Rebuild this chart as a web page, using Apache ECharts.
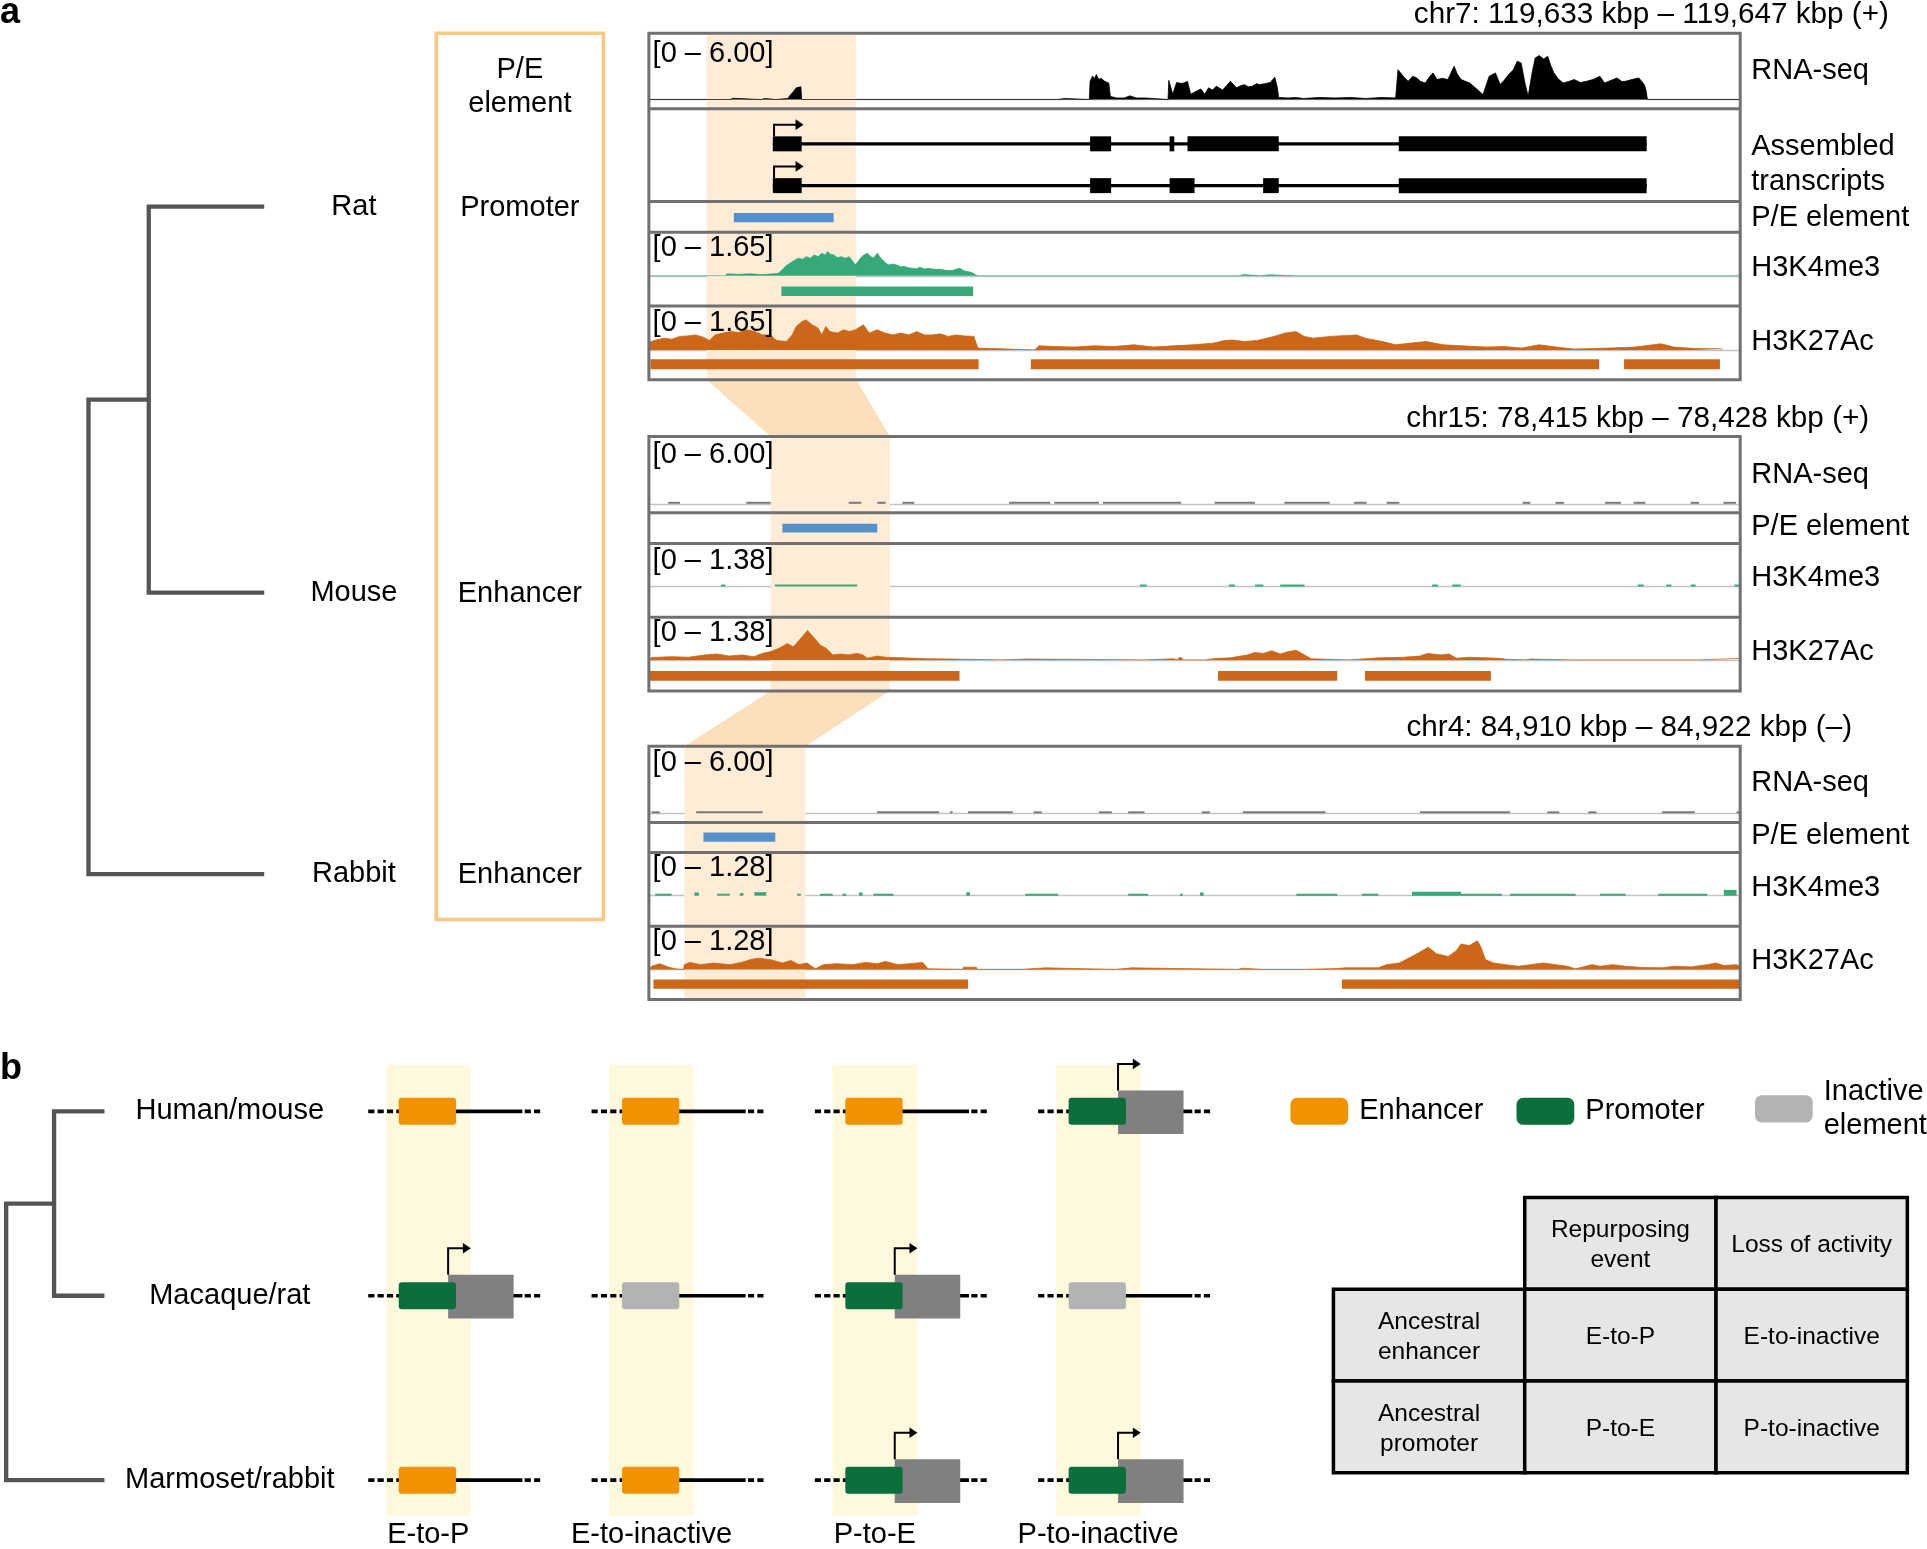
<!DOCTYPE html>
<html><head><meta charset="utf-8">
<script src="https://cdn.jsdelivr.net/npm/echarts@6/dist/echarts.min.js"></script>
<style>html,body{margin:0;padding:0;background:#fff}#c{width:1927px;height:1549px}</style>
</head><body><div id="c"></div><script>
// ================= DATA =================
// ---- Panel a: genomic windows (x = kbp from window start) ----
const regionLabels = ['chr7: 119,633 kbp – 119,647 kbp (+)', 'chr15: 78,415 kbp – 78,428 kbp (+)', 'chr4: 84,910 kbp – 84,922 kbp (–)'];
const regionSpanKbp = [14, 13, 12];
const speciesA = ['Rat', 'Mouse', 'Rabbit'];
const peStatesA = ['Promoter', 'Enhancer', 'Enhancer'];
const rnaRangeMax = [6.00, 6.00, 6.00];
const k4RangeMax = [1.65, 1.38, 1.28];
const k27RangeMax = [1.65, 1.38, 1.28];
const conservedBand = [[0.74, 2.66], [1.45, 2.87], [0.39, 1.72]];
const peElements = [[1.09, 2.37], [1.59, 2.72], [0.60, 1.39]];
const ratK4Peaks = [[1.70, 4.16]];
const ratK27Peaks = [[0.02, 4.23], [4.90, 12.19], [12.51, 13.74]];
const mouseK27Peaks = [[0.0, 3.70], [6.78, 8.20], [8.53, 10.03]];
const rabbitK27Peaks = [[0.05, 3.51], [7.62, 12.0]];
const ratTx1Exons = [[1.59, 1.96], [5.66, 5.93], [6.68, 6.74], [6.91, 8.08], [9.62, 12.80]];
const ratTx2Exons = [[1.59, 1.96], [5.66, 5.93], [6.68, 7.00], [7.88, 8.08], [9.62, 12.80]];

const ratRnaSignal = [[0,0],[1.04,0],[1.05,0.12],[1.08,0.12],[1.09,0],[1.44,0],[1.45,0.1],[1.49,0.1],[1.50,0],
 [1.63,0],[1.64,0.1],[1.78,0.1],[1.80,0.3],[1.86,0.8],[1.89,1.1],[1.95,1.2],[1.96,0],
 [5.25,0],[5.26,0.1],[5.33,0.1],[5.34,0],
 [5.65,0],[5.66,1.7],[5.69,2.2],[5.72,2.0],[5.74,2.35],[5.77,1.9],[5.80,2.0],[5.85,1.7],[5.90,1.55],[5.92,0.3],[6.0,0.15],[6.1,0.15],[6.17,0.35],[6.25,0.15],[6.37,0.15],[6.38,0],
 [6.66,0],[6.67,1.8],[6.72,0.5],[6.77,1.6],[6.84,1.5],[6.91,1.7],[6.95,0.5],[7.03,0.8],[7.08,1.0],[7.13,0.5],[7.18,1.1],[7.23,0.9],[7.28,1.25],[7.36,0.9],[7.41,1.3],[7.46,1.72],[7.54,1.1],[7.59,1.3],[7.64,1.4],[7.69,1.2],[7.74,1.25],[7.80,1.5],[7.83,1.4],[7.91,1.5],[7.97,1.6],[8.03,2.1],[8.06,1.2],[8.08,0.2],
 [8.2,0.15],[8.3,0.2],[8.4,0.1],[8.6,0.2],[8.8,0.15],[9.0,0.2],[9.2,0.1],[9.4,0.2],[9.58,0.15],[9.60,0],
 [9.61,2.8],[9.66,2.35],[9.70,2.0],[9.74,1.72],[9.80,2.2],[9.85,2.03],[9.90,1.7],[9.96,1.56],[10.02,2.2],[10.06,2.5],[10.11,1.88],[10.18,2.0],[10.25,1.88],[10.33,3.13],[10.37,2.4],[10.42,1.88],[10.48,1.7],[10.53,1.56],[10.62,1.0],[10.70,0.47],[10.78,2.19],[10.86,2.5],[10.92,1.41],[10.97,1.8],[11.03,2.35],[11.09,2.8],[11.14,3.6],[11.19,3.44],[11.24,1.5],[11.28,0.31],[11.33,2.5],[11.37,3.9],[11.42,4.13],[11.48,3.8],[11.53,4.07],[11.57,3.2],[11.61,2.5],[11.67,1.9],[11.73,1.56],[11.80,1.7],[11.87,1.88],[11.95,1.6],[12.03,1.72],[12.12,1.9],[12.20,2.19],[12.26,1.56],[12.34,1.8],[12.42,2.03],[12.48,1.7],[12.53,1.72],[12.62,1.9],[12.70,2.03],[12.77,1.4],[12.79,0.94],[12.81,0],[14,0]];

const ratK4Signal = [[0,0],[0.99,0],[1.00,0.08],[1.15,0.06],[1.30,0.08],[1.45,0.05],[1.60,0.08],[1.66,0.1],[1.71,0.24],[1.76,0.4],[1.81,0.5],[1.87,0.62],[1.92,0.7],[1.97,0.66],[2.02,0.76],[2.07,0.7],[2.12,0.83],[2.17,0.76],[2.22,0.9],[2.26,0.82],[2.29,0.96],[2.33,0.86],[2.37,0.83],[2.42,0.72],[2.47,0.76],[2.52,0.7],[2.57,0.76],[2.61,0.6],[2.65,0.43],[2.69,0.6],[2.73,0.76],[2.77,0.84],[2.80,0.9],[2.84,0.78],[2.88,0.7],[2.93,0.9],[2.97,0.72],[3.00,0.63],[3.04,0.5],[3.08,0.43],[3.13,0.47],[3.18,0.43],[3.23,0.36],[3.28,0.37],[3.33,0.32],[3.38,0.3],[3.43,0.28],[3.48,0.34],[3.53,0.27],[3.59,0.3],[3.66,0.26],[3.74,0.26],[3.81,0.22],[3.89,0.21],[3.94,0.26],[3.99,0.3],[4.04,0.2],[4.09,0.17],[4.15,0.12],[4.19,0.04],[4.22,0],
 [7.58,0],[7.59,0.05],[7.62,0.05],[7.63,0],[7.85,0],[7.86,0.04],[7.96,0.04],[7.97,0],[8.29,0],[8.30,0.05],[8.32,0],[9.40,0],[9.41,0.04],[9.43,0],[10.74,0],[10.75,0.04],[10.77,0],[13.97,0],[13.98,0.05],[14,0.05]];

const ratK27Signal = [[0,0.3],[0.015,0.33],[0.091,0.39],[0.193,0.46],[0.294,0.42],[0.395,0.53],[0.496,0.55],[0.598,0.59],[0.699,0.5],[0.775,0.37],[0.851,0.59],[0.952,0.66],[1.054,0.72],[1.155,0.68],[1.256,0.79],[1.358,0.72],[1.459,0.59],[1.560,0.59],[1.636,0.37],[1.763,0.33],[1.839,0.59],[1.890,0.92],[1.966,1.12],[2.016,1.18],[2.092,0.99],[2.168,0.86],[2.219,0.59],[2.270,0.92],[2.320,0.72],[2.422,0.66],[2.498,0.79],[2.574,0.72],[2.650,0.79],[2.751,0.99],[2.827,0.66],[2.928,0.79],[3.029,0.66],[3.131,0.59],[3.232,0.66],[3.333,0.59],[3.435,0.72],[3.536,0.59],[3.637,0.59],[3.739,0.63],[3.840,0.53],[3.941,0.59],[4.043,0.55],[4.169,0.53],[4.220,0.07],[4.245,0],
 [4.95,0],[4.954,0.07],[5.005,0.16],[5.208,0.13],[5.461,0.11],[5.714,0.16],[5.968,0.13],[6.221,0.2],[6.474,0.11],[6.728,0.16],[6.981,0.2],[7.234,0.26],[7.386,0.37],[7.487,0.39],[7.639,0.33],[7.80,0.37],[8.02,0.53],[8.16,0.66],[8.30,0.72],[8.41,0.53],[8.52,0.46],[8.74,0.53],[9.08,0.59],[9.19,0.46],[9.41,0.33],[9.58,0.2],[9.75,0.26],[9.97,0.33],[10.19,0.2],[10.42,0.16],[10.75,0.11],[10.97,0.13],[11.20,0.07],[11.42,0.2],[11.64,0.11],[11.87,0.03],[12.09,0.05],[12.31,0.07],[12.65,0.11],[12.98,0.24],[13.15,0.11],[13.43,0.05],[13.76,0.04],[13.77,0]];

const mouseRnaNoise = [[0.23,0.37],[1.16,1.45],[2.38,2.53],[2.72,2.82],[3.02,3.16],[4.29,4.78],[4.83,5.36],[5.41,6.34],[6.74,7.22],[7.57,8.11],[8.40,8.55],[8.79,8.94],[10.41,10.50],[10.80,10.90],[11.39,11.58],[11.73,11.87],[12.41,12.51],[12.80,12.95]];
const mouseK4Noise = [[0.86,0.91],[1.50,2.48],[5.85,5.93],[6.91,6.98],[7.22,7.32],[7.52,7.81],[9.33,9.40],[9.57,9.67],[11.78,11.85],[12.12,12.18],[12.41,12.47],[12.93,13.0]];
const mouseK27Signal = [[0,0],[0.03,0.08],[0.27,0.11],[0.47,0.09],[0.67,0.17],[0.81,0.2],[0.96,0.13],[1.11,0.17],[1.25,0.11],[1.35,0.22],[1.45,0.28],[1.55,0.39],[1.65,0.55],[1.72,0.44],[1.79,0.66],[1.89,0.99],[1.96,0.77],[2.04,0.5],[2.11,0.39],[2.19,0.17],[2.28,0.2],[2.38,0.17],[2.48,0.22],[2.55,0.17],[2.60,0.06],[2.72,0.13],[2.82,0.09],[3.02,0.07],[3.31,0.04],[3.60,0.03],[3.62,0],
 [4.20,0],[4.21,0.03],[4.50,0.03],[4.51,0],[5.90,0],[5.91,0.04],[6.25,0.04],[6.26,0],[6.30,0],[6.31,0.07],[6.35,0.07],[6.36,0],
 [6.63,0],[6.64,0.02],[6.74,0.05],[6.93,0.07],[7.13,0.17],[7.22,0.25],[7.32,0.22],[7.42,0.31],[7.52,0.2],[7.62,0.28],[7.71,0.33],[7.81,0.17],[7.89,0.04],[7.90,0],
 [8.34,0],[8.35,0.04],[8.69,0.07],[8.99,0.09],[9.18,0.13],[9.28,0.22],[9.43,0.17],[9.53,0.2],[9.62,0.06],[9.77,0.09],[9.97,0.07],[10.16,0.05],[10.21,0.02],[10.22,0],
 [10.45,0],[10.46,0.03],[10.50,0.03],[10.51,0],[11.00,0],[11.01,0.03],[11.05,0],[11.50,0],[11.51,0.03],[11.55,0],[12.50,0],[12.51,0.05],[13,0.05]];

const rabbitRnaNoise = [[0.03,0.12],[0.52,1.25],[2.51,3.19],[3.31,3.34],[3.51,4.00],[4.23,4.32],[4.95,5.09],[5.27,5.45],[6.08,6.17],[6.53,7.44],[8.48,9.47],[9.88,10.01],[10.33,10.42],[11.14,11.50],[11.96,12.0]];
const rabbitK4Bumps = [[0.07,0.25,0.05],[0.50,0.55,0.1],[0.75,0.89,0.05],[1.00,1.04,0.08],[1.16,1.29,0.11],[1.63,1.67,0.05],[1.88,2.02,0.04],[2.13,2.17,0.05],[2.31,2.35,0.1],[2.47,2.69,0.03],[3.49,3.53,0.11],[4.14,4.50,0.05],[5.27,5.49,0.04],[5.84,5.87,0.05],[6.06,6.10,0.1],[7.12,7.57,0.03],[7.84,8.02,0.03],[8.39,8.93,0.12],[8.93,9.38,0.06],[9.47,10.19,0.04],[10.46,10.74,0.03],[11.10,11.64,0.03],[11.82,11.96,0.18]];
const rabbitK27Signal = [[0,0],[0.03,0.1],[0.12,0.18],[0.21,0.08],[0.29,0.02],[0.30,0],[0.38,0],[0.39,0.15],[0.45,0.22],[0.57,0.15],[0.71,0.2],[0.89,0.15],[1.02,0.22],[1.11,0.3],[1.20,0.35],[1.34,0.3],[1.47,0.2],[1.56,0.28],[1.65,0.15],[1.74,0.2],[1.83,0.02],[1.92,0.15],[2.06,0.18],[2.24,0.15],[2.38,0.22],[2.51,0.18],[2.60,0.25],[2.74,0.15],[2.87,0.18],[3.01,0.22],[3.07,0.02],[3.08,0],
 [3.45,0],[3.46,0.07],[3.60,0.07],[3.61,0],[4.09,0],[4.10,0.05],[4.36,0.05],[4.37,0],[5.13,0],[5.14,0.05],[5.31,0.05],[5.32,0],[6.48,0],[6.49,0.04],[6.52,0.04],[6.53,0],[6.75,0],[6.76,0.04],[6.79,0],
 [7.21,0],[7.22,0.03],[7.57,0.03],[7.66,0.05],[8.02,0.05],[8.11,0.15],[8.25,0.2],[8.39,0.4],[8.48,0.54],[8.57,0.69],[8.66,0.49],[8.79,0.4],[8.88,0.59],[8.93,0.79],[9.02,0.74],[9.11,0.89],[9.15,0.69],[9.20,0.3],[9.29,0.2],[9.42,0.15],[9.56,0.1],[9.70,0.15],[9.83,0.2],[9.97,0.15],[10.10,0.1],[10.19,0.02],[10.37,0.15],[10.46,0.1],[10.60,0.15],[10.74,0.1],[10.92,0.06],[11.14,0.05],[11.28,0.1],[11.46,0.08],[11.64,0.15],[11.73,0.2],[11.82,0.12],[11.96,0.15],[12,0.1]];
const treeADepth = [0, 0.343, 1];

// ---- Panel b ----
const speciesB = ['Human/mouse', 'Macaque/rat', 'Marmoset/rabbit'];
const events = ['E-to-P', 'E-to-inactive', 'P-to-E', 'P-to-inactive'];
const elementStates = [['E','E','E','P'], ['P','I','P','I'], ['E','E','P','P']];
const stateKeys = ['E', 'P', 'I'];
const stateNames = ['Enhancer', 'Promoter', 'Inactive element'];
const treeBDepth = [0, 0.4875, 1];
const tableColHeaders = ['Repurposing\nevent', 'Loss of activity'];
const tableRowHeaders = ['Ancestral\nenhancer', 'Ancestral\npromoter'];
const tableBody = [['E-to-P', 'E-to-inactive'], ['P-to-E', 'P-to-inactive']];

// ================= LAYOUT / STYLE =================
const SX = 1927 / 1568, SY = 1549 / 1260;
const X = v => v * SX, Y = v => v * SY;
const F = '"Liberation Sans", Arial, Helvetica, sans-serif';
const FS = 29;
const C = {rna:'#000000', k4:'#36a978', k27:'#cc6618', pe:'#5491cb', frame:'#707070', base:'#c4c4c4',
  enh:'#f39200', pro:'#0c6e3a', ina:'#b3b3b3', gene:'#808080', yellow:'#fef9dc', bandIn:'#feecd6', bandLink:'#fddfbb', box:'#fdc77e', tree:'#555555'};
const L = {left:528, width:888, aSpeciesY:[168, 482, 711], aSpeciesX:288, aStateX:423};
const LB = [
 {top:27, bottom:309, seps:[88.5,164,189,249], head:[1537,12], rna:[29,81], tx:[117,151], pe:[177,7.6], k4:[190.5,224.4], k4p:[236.9,7.6], k27:[250.5,284.6], k27p:[296.3,8], rangeY:[44,202,263],
  labels:[['RNA-seq',58],['Assembled\ntranscripts',133.5],['P/E element',177],['H3K4me3',218],['H3K27Ac',278]]},
 {top:355, bottom:562, seps:[417,442,502], head:[1521,341], rna:[357,409.8], pe:[429.6,7], k4:[443.5,477.1], k27:[503.5,536.8], k27p:[549.8,8], rangeY:[370,456,515],
  labels:[['RNA-seq',386],['P/E element',429],['H3K4me3',470],['H3K27Ac',530]]},
 {top:607, bottom:813, seps:[669,693.5,753.5], head:[1507,592], rna:[609,661.6], pe:[681,7.5], k4:[695,728.6], k27:[755,788.6], k27p:[800.5,7.6], rangeY:[621,706,766],
  labels:[['RNA-seq',637],['P/E element',680],['H3K4me3',722],['H3K27Ac',782]]}
];

// ================= BUILD =================
const grids = [], xAxes = [], yAxes = [], series = [];
function addGrid(top, bottom, span, ymax, baseline) {
  const i = grids.length;
  grids.push({left:X(L.left), width:X(L.width), top:Y(top), height:Y(bottom - top)});
  xAxes.push({gridIndex:i, type:'value', min:0, max:span, show:!!baseline,
    axisLine:{show:!!baseline, onZero:false, lineStyle:{color:C.base, width:1.3}}, axisTick:{show:false}, axisLabel:{show:false}, splitLine:{show:false}});
  yAxes.push({gridIndex:i, type:'value', min:0, max:ymax, show:false, splitLine:{show:false}});
  return i;
}
function addSignal(gi, data, color) {
  series.push({type:'line', xAxisIndex:gi, yAxisIndex:gi, data, symbol:'none', showSymbol:false, silent:true, z:3,
    lineStyle:{width:0.8, color}, areaStyle:{color, opacity:1}});
}
function addIntervals(gi, data, color) {
  series.push({type:'custom', xAxisIndex:gi, yAxisIndex:gi, data, silent:true, z:3,
    renderItem:(p, api) => { const a = api.coord([api.value(0), 0]), b = api.coord([api.value(1), 1]);
      return {type:'rect', shape:{x:a[0], y:b[1], width:b[0]-a[0], height:a[1]-b[1]}, style:{fill:color}}; }});
}
function addBumps(gi, data, color, fixedVal) {
  series.push({type:'custom', xAxisIndex:gi, yAxisIndex:gi, data, silent:true, z:3,
    renderItem:(p, api) => { const v = fixedVal != null ? fixedVal : api.value(2);
      const a = api.coord([api.value(0), 0]), b = api.coord([api.value(1), v]);
      const h = Math.max(2, a[1] - b[1]);
      return {type:'rect', shape:{x:a[0], y:a[1]-h, width:Math.max(1.5, b[0]-a[0]), height:h}, style:{fill:color}}; }});
}
function addTranscript(center, span, exons) {
  const gi = addGrid(center - 6.1, center + 6.1, span, 1, false);
  const s = exons[0][0], e = exons[exons.length - 1][1];
  series.push({type:'custom', xAxisIndex:gi, yAxisIndex:gi, data:[[s, e]], silent:true, z:3,
    renderItem:(p, api) => {
      const a = api.coord([api.value(0), 0.5]), b = api.coord([api.value(1), 0.5]), t = api.coord([api.value(0), 1]);
      const ay = t[1] - Y(9.5), ax = t[0] + X(1);
      return {type:'group', children:[
        {type:'line', shape:{x1:a[0], y1:a[1], x2:b[0], y2:b[1]}, style:{stroke:'#000', lineWidth:3.2}},
        {type:'polyline', shape:{points:[[ax, t[1]], [ax, ay], [ax + X(18.5), ay]]}, style:{stroke:'#000', lineWidth:2, fill:null}},
        {type:'polygon', shape:{points:[[ax + X(17.5), ay - Y(4.4)], [ax + X(24), ay], [ax + X(17.5), ay + Y(4.4)]]}, style:{fill:'#000'}}
      ]};
    }});
  addIntervals(gi, exons, '#000');
}

const spans = regionSpanKbp;
const rnaGridIdx = [];
// Rat
{
  const b = LB[0], sp = spans[0];
  const g1 = addGrid(b.rna[0], b.rna[1], sp, rnaRangeMax[0], true); rnaGridIdx.push(g1); addSignal(g1, ratRnaSignal, C.rna);
  addTranscript(b.tx[0], sp, ratTx1Exons);
  addTranscript(b.tx[1], sp, ratTx2Exons);
  const g2 = addGrid(b.pe[0] - b.pe[1]/2, b.pe[0] + b.pe[1]/2, sp, 1, false); addIntervals(g2, [peElements[0]], C.pe);
  const g3 = addGrid(b.k4[0], b.k4[1], sp, k4RangeMax[0], true); addSignal(g3, ratK4Signal, C.k4);
  const g4 = addGrid(b.k4p[0] - b.k4p[1]/2, b.k4p[0] + b.k4p[1]/2, sp, 1, false); addIntervals(g4, ratK4Peaks, C.k4);
  const g5 = addGrid(b.k27[0], b.k27[1], sp, k27RangeMax[0], true); addSignal(g5, ratK27Signal, C.k27);
  const g6 = addGrid(b.k27p[0] - b.k27p[1]/2, b.k27p[0] + b.k27p[1]/2, sp, 1, false); addIntervals(g6, ratK27Peaks, C.k27);
}
// Mouse
{
  const b = LB[1], sp = spans[1];
  const g1 = addGrid(b.rna[0], b.rna[1], sp, rnaRangeMax[1], true); rnaGridIdx.push(g1); addBumps(g1, mouseRnaNoise, '#7a7a7a', 0.1);
  const g2 = addGrid(b.pe[0] - b.pe[1]/2, b.pe[0] + b.pe[1]/2, sp, 1, false); addIntervals(g2, [peElements[1]], C.pe);
  const g3 = addGrid(b.k4[0], b.k4[1], sp, k4RangeMax[1], true); addBumps(g3, mouseK4Noise, C.k4, 0.04);
  const g5 = addGrid(b.k27[0], b.k27[1], sp, k27RangeMax[1], true); addSignal(g5, mouseK27Signal, C.k27);
  const g6 = addGrid(b.k27p[0] - b.k27p[1]/2, b.k27p[0] + b.k27p[1]/2, sp, 1, false); addIntervals(g6, mouseK27Peaks, C.k27);
}
// Rabbit
{
  const b = LB[2], sp = spans[2];
  const g1 = addGrid(b.rna[0], b.rna[1], sp, rnaRangeMax[2], true); rnaGridIdx.push(g1); addBumps(g1, rabbitRnaNoise, '#7a7a7a', 0.1);
  const g2 = addGrid(b.pe[0] - b.pe[1]/2, b.pe[0] + b.pe[1]/2, sp, 1, false); addIntervals(g2, [peElements[2]], C.pe);
  const g3 = addGrid(b.k4[0], b.k4[1], sp, k4RangeMax[2], true); addBumps(g3, rabbitK4Bumps, C.k4, null);
  const g5 = addGrid(b.k27[0], b.k27[1], sp, k27RangeMax[2], true); addSignal(g5, rabbitK27Signal, C.k27);
  const g6 = addGrid(b.k27p[0] - b.k27p[1]/2, b.k27p[0] + b.k27p[1]/2, sp, 1, false); addIntervals(g6, rabbitK27Peaks, C.k27);
}

// Panel a tree + species + P/E states
function elbowTree(api, depths, ys, color) {
  const xr = api.coord([depths[0], 0])[0], xi = api.coord([depths[1], 0])[0], xl = api.coord([depths[2], 0])[0];
  const yi = (ys[0] + ys[1]) / 2;
  const st = {stroke:color, lineWidth:X(3.5), fill:null, lineJoin:'miter', lineCap:'butt'};
  return [
    {type:'polyline', shape:{points:[[xl, ys[0]], [xi, ys[0]], [xi, ys[1]], [xl, ys[1]]]}, style:st},
    {type:'polyline', shape:{points:[[xi, yi], [xr, yi], [xr, ys[2]], [xl, ys[2]]]}, style:st}
  ];
}
{
  const i = grids.length;
  grids.push({left:X(72), width:X(143), top:0, height:Y(1260)});
  xAxes.push({gridIndex:i, type:'value', min:0, max:1, show:false});
  yAxes.push({gridIndex:i, type:'value', min:0, max:1260, inverse:true, show:false});
  series.push({type:'custom', xAxisIndex:i, yAxisIndex:i, data:[[0, 0]], silent:true, z:3,
    renderItem:(p, api) => {
      const ys = L.aSpeciesY.map(v => api.coord([0, v])[1]);
      const kids = elbowTree(api, treeADepth, ys, C.tree);
      speciesA.forEach((s, k) => {
        kids.push({type:'text', x:X(L.aSpeciesX), y:ys[k], style:{text:s, fontSize:FS, fontFamily:F, fill:'#000', align:'center', verticalAlign:'middle'}});
        kids.push({type:'text', x:X(L.aStateX), y:ys[k] + Y(1), style:{text:peStatesA[k], fontSize:FS, fontFamily:F, fill:'#000', align:'center', verticalAlign:'middle'}});
      });
      return {type:'group', children:kids};
    }});
}

// Panel b tree (rows at first/last category edges: boundaryGap false)
{
  const i = grids.length;
  grids.push({left:X(5), width:X(80), top:Y(904), height:Y(300)});
  xAxes.push({gridIndex:i, type:'value', min:0, max:1, show:false});
  yAxes.push({gridIndex:i, type:'category', data:speciesB, inverse:true, boundaryGap:false, show:false});
  series.push({type:'custom', xAxisIndex:i, yAxisIndex:i, data:[[0, 0]], silent:true, z:3,
    renderItem:(p, api) => {
      const ys = [0, 1, 2].map(r => api.coord([0, r])[1]);
      return {type:'group', children:elbowTree(api, treeBDepth, ys, C.tree)};
    }});
}

// Panel b schematic
const schem = grids.length;
grids.push({left:X(257.6), width:X(726.8), top:Y(904), height:Y(300)});
xAxes.push({gridIndex:schem, type:'category', data:events, show:false});
yAxes.push({gridIndex:schem, type:'category', data:speciesB, inverse:true, boundaryGap:false, show:true,
  axisLine:{show:false}, axisTick:{show:false}, splitLine:{show:false},
  axisLabel:{show:true, align:'center', margin:X(70.6), fontSize:FS, fontFamily:F, color:'#000'}});
// yellow columns + event labels
series.push({type:'custom', xAxisIndex:schem, yAxisIndex:schem, data:events.map((e, c) => [c, 0]), silent:true, z:1,
  renderItem:(p, api) => {
    const c = api.value(0);
    const top = api.coord([c, 0]), bot = api.coord([c, 2]);
    return {type:'group', children:[
      {type:'rect', shape:{x:top[0] - X(34.5), y:top[1] - Y(38), width:X(69), height:bot[1] - top[1] + Y(38 + 29)}, style:{fill:C.yellow}},
      {type:'text', x:top[0], y:bot[1] + Y(45), style:{text:events[c], fontSize:FS, fontFamily:F, fill:'#000', align:'center', verticalAlign:'middle'}}
    ]};
  }});
// backbone lines
const allCells = [];
elementStates.forEach((row, r) => row.forEach((s, c) => allCells.push([c, r])));
series.push({type:'custom', xAxisIndex:schem, yAxisIndex:schem, data:allCells, silent:true, z:2,
  renderItem:(p, api) => {
    const o = api.coord([api.value(0), api.value(1)]);
    const lw = Y(3), dash = [X(5), X(2.6)];
    return {type:'group', children:[
      {type:'line', shape:{x1:o[0] - X(48.8), y1:o[1], x2:o[0] - X(22), y2:o[1]}, style:{stroke:'#000', lineWidth:lw, lineDash:dash}},
      {type:'line', shape:{x1:o[0] - X(24), y1:o[1], x2:o[0] + X(76.6), y2:o[1]}, style:{stroke:'#000', lineWidth:lw}},
      {type:'line', shape:{x1:o[0] + X(78.5), y1:o[1], x2:o[0] + X(93), y2:o[1]}, style:{stroke:'#000', lineWidth:lw, lineDash:dash}}
    ]};
  }});
const stateColors = [C.enh, C.pro, C.ina];
stateKeys.forEach((k, si) => {
  const cells = [];
  elementStates.forEach((row, r) => row.forEach((s, c) => { if (s === k) cells.push([c, r]); }));
  series.push({type:'custom', name:stateNames[si], xAxisIndex:schem, yAxisIndex:schem, data:cells, silent:true, z:3,
    itemStyle:{color:stateColors[si]},
    renderItem:(p, api) => {
      const o = api.coord([api.value(0), api.value(1)]);
      const box = {type:'rect', shape:{x:o[0] - X(24), y:o[1] - Y(11), width:X(46.6), height:Y(22), r:3}, style:{fill:stateColors[si]}};
      if (k !== 'P') return box;
      const gx = o[0] + X(16.2), gy = o[1] - Y(17), ay = o[1] - Y(38.6);
      return {type:'group', children:[
        {type:'rect', shape:{x:gx, y:gy, width:X(53.3), height:Y(35.5)}, style:{fill:C.gene}},
        {type:'polyline', shape:{points:[[gx, gy], [gx, ay], [gx + X(12.5), ay]]}, style:{stroke:'#000', lineWidth:2, fill:null}},
        {type:'polygon', shape:{points:[[gx + X(12), ay - Y(4.3)], [gx + X(18.5), ay], [gx + X(12), ay + Y(4.3)]]}, style:{fill:'#000'}},
        box
      ]};
    }});
});

// Table
{
  const i = grids.length;
  grids.push({left:X(1085), width:X(467), top:Y(974), height:Y(224)});
  xAxes.push({gridIndex:i, type:'category', data:['', 'Repurposing event', 'Loss of activity'], show:false});
  yAxes.push({gridIndex:i, type:'category', data:['', 'Ancestral enhancer', 'Ancestral promoter'], inverse:true, show:false});
  const cells = [];
  tableColHeaders.forEach((t, c) => cells.push([c + 1, 0, t]));
  tableRowHeaders.forEach((t, r) => { cells.push([0, r + 1, t]); tableBody[r].forEach((v, c) => cells.push([c + 1, r + 1, v])); });
  series.push({type:'custom', xAxisIndex:i, yAxisIndex:i, data:cells.map(d => [d[0], d[1]]), silent:true, z:3,
    renderItem:(p, api) => {
      const o = api.coord([api.value(0), api.value(1)]), s = api.size([1, 1]);
      return {type:'group', children:[
        {type:'rect', shape:{x:o[0] - s[0]/2, y:o[1] - s[1]/2, width:s[0], height:s[1]}, style:{fill:'#e6e6e6', stroke:'#000', lineWidth:3.5}},
        {type:'text', x:o[0], y:o[1] + 2, style:{text:cells[p.dataIndex][2], fontSize:24.5, lineHeight:30, fontFamily:F, fill:'#000', align:'center', verticalAlign:'middle'}}
      ]};
    }});
}

const legendBase = {orient:'horizontal', padding:0, itemWidth:X(47), itemHeight:Y(22), selectedMode:false,
  textStyle:{fontSize:FS, fontFamily:F, color:'#000', lineHeight:34, padding:[0, 0, 0, 6]}};
const legends = [
  Object.assign({}, legendBase, {left:X(1050), top:Y(904) - 17, data:[{name:stateNames[0], icon:'roundRect', itemStyle:{color:C.enh}}]}),
  Object.assign({}, legendBase, {left:X(1234), top:Y(904) - 17, data:[{name:stateNames[1], icon:'roundRect', itemStyle:{color:C.pro}}]}),
  Object.assign({}, legendBase, {left:X(1428), top:Y(902) - 34, data:[{name:stateNames[2], icon:'roundRect', itemStyle:{color:C.ina}}],
    formatter:n => n.replace(' ', '\n')})
];

const chart = echarts.init(document.getElementById('c'), null, {renderer:'canvas', width:1927, height:1549});
chart.setOption({animation:false, backgroundColor:'#fff', grid:grids, xAxis:xAxes, yAxis:yAxes, series, legend:legends});

// ---------- graphics: frames, labels, conserved band ----------
const G = [];
const T = (text, x, y, o) => G.push({type:'text', x:X(x), y:Y(y), z:20, silent:true,
  style:Object.assign({text, fontSize:FS, fontFamily:F, fill:'#000', align:'left', verticalAlign:'middle'}, o || {})});
const px = (b, v) => chart.convertToPixel({xAxisIndex:rnaGridIdx[b]}, v);
const bx = conservedBand.map((bd, b) => [px(b, bd[0]), px(b, bd[1])]);
LB.forEach((b, k) => {
  G.push({type:'rect', z:1, silent:true, shape:{x:bx[k][0], y:Y(b.top), width:bx[k][1] - bx[k][0], height:Y(b.bottom - b.top)}, style:{fill:C.bandIn}});
  if (k < 2) {
    const n = LB[k + 1];
    G.push({type:'polygon', z:1, silent:true, shape:{points:[[bx[k][0], Y(b.bottom)], [bx[k][1], Y(b.bottom)], [bx[k + 1][1], Y(n.top)], [bx[k + 1][0], Y(n.top)]]}, style:{fill:C.bandLink}});
  }
  G.push({type:'rect', z:10, silent:true, shape:{x:X(L.left), y:Y(b.top), width:X(L.width), height:Y(b.bottom - b.top)}, style:{fill:null, stroke:C.frame, lineWidth:3}});
  b.seps.forEach(s => G.push({type:'line', z:10, silent:true, shape:{x1:X(L.left), y1:Y(s), x2:X(L.left + L.width), y2:Y(s)}, style:{stroke:C.frame, lineWidth:3}}));
  T(regionLabels[k], b.head[0], b.head[1], {align:'right', fontSize:29.7});
  b.labels.forEach(l => T(l[0], 1425, l[1], {lineHeight:35}));
  const ranges = [rnaRangeMax[k], k4RangeMax[k], k27RangeMax[k]];
  ranges.forEach((r, j) => T('[0 – ' + r.toFixed(2) + ']', 531, b.rangeY[j], {fontSize:29}));
});
G.push({type:'rect', z:5, silent:true, shape:{x:X(355), y:Y(27), width:X(136), height:Y(721)}, style:{fill:null, stroke:C.box, lineWidth:3.5}});
T('P/E\nelement', 423, 71, {align:'center', lineHeight:34});
T('a', 0, 11, {fontSize:36, fontWeight:'bold'});
T('b', 0, 870, {fontSize:36, fontWeight:'bold'});
chart.setOption({graphic:G});
</script></body></html>
